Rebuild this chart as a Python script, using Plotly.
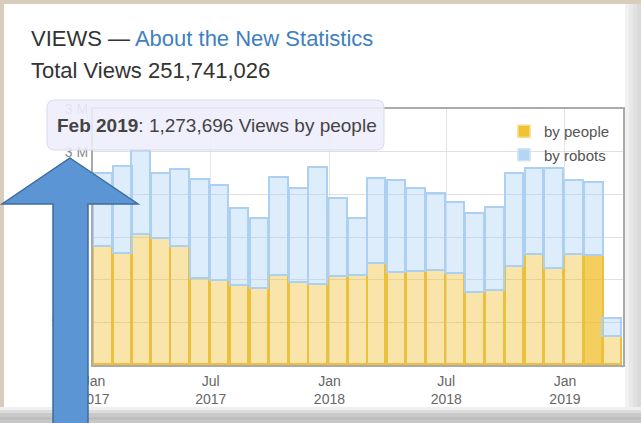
import plotly.graph_objects as go

# ---------------- data ----------------
months = ["2017-01-01", "2017-02-01", "2017-03-01", "2017-04-01", "2017-05-01", "2017-06-01",
          "2017-07-01", "2017-08-01", "2017-09-01", "2017-10-01", "2017-11-01", "2017-12-01",
          "2018-01-01", "2018-02-01", "2018-03-01", "2018-04-01", "2018-05-01", "2018-06-01",
          "2018-07-01", "2018-08-01", "2018-09-01", "2018-10-01", "2018-11-01", "2018-12-01",
          "2019-01-01", "2019-02-01", "2019-03-01"]

views_people = [1380000, 1306000, 1529000, 1479000, 1385000, 1006000, 982000, 921000, 894000,
                1039000, 961000, 933000, 1032000, 1047000, 1188000, 1082000, 1088000, 1106000,
                1067000, 844000, 862000, 1145000, 1294000, 1126000, 1294000, 1273696, 333000]

views_robots = [855000, 1020000, 980000, 756000, 897000, 1165000, 1116000, 903000, 812000,
                1157000, 1098000, 1381000, 909000, 659000, 997000, 1074000, 976000, 902000,
                835000, 921000, 982000, 1090000, 1000000, 1168000, 862000, 864000, 205000]

x_tick_vals = ["2017-01-01", "2017-07-01", "2018-01-01", "2018-07-01", "2019-01-01"]
x_tick_text = ["Jan<br>2017", "Jul<br>2017", "Jan<br>2018", "Jul<br>2018", "Jan<br>2019"]
y_tick_vals = [0, 500000, 1000000, 1500000, 2000000, 2500000, 3000000]
y_tick_text = ["0", "500 K", "1 M", "2 M", "2 M", "3 M", "3 M"]

hovered_month = "2019-02-01"

header_line1 = "VIEWS — "
header_link = "About the New Statistics"
header_line2 = "Total Views 251,741,026"
tooltip_month = "Feb 2019"
tooltip_value = "1,273,696 Views by people"

# ---------------- layout geometry (pixels) ----------------
W, H = 641, 423
L, R, T, B = 93, 623, 109, 365


def fx(p):
    return (p - L) / (R - L)


def fy(p):
    return (B - p) / (B - T)


FONT = "Liberation Sans, Arial, sans-serif"
DAY_MS = 86400000

people_fill = ["rgba(240,190,40,0.75)" if m == hovered_month else "rgba(240,190,40,0.40)"
               for m in months]

fig = go.Figure()
fig.add_trace(go.Bar(
    x=months, y=views_people, name="by people", showlegend=False,
    offset=0, width=29 * DAY_MS,
    marker=dict(color=people_fill, line=dict(color="#ebc03e", width=1.6)),
))
fig.add_trace(go.Bar(
    x=months, y=views_robots, name="by robots", showlegend=False,
    offset=0, width=29 * DAY_MS,
    marker=dict(color="rgba(160,205,245,0.36)", line=dict(color="#acd0f2", width=1.6)),
))
# legend entries
fig.add_trace(go.Bar(x=[None], y=[None], name="by people", legendgroup="p",
                     marker=dict(color="#f1c232", line=dict(color="#f6dc8a", width=1.5))))
fig.add_trace(go.Bar(x=[None], y=[None], name="by robots", legendgroup="r",
                     marker=dict(color="#b4d6f5", line=dict(color="#d2e3f3", width=1.5))))

shapes = []
# white panel and its shadows
shapes.append(dict(type="rect", xref="paper", yref="paper", layer="below",
                   x0=fx(4), x1=fx(626), y0=fy(4), y1=fy(408),
                   fillcolor="white", line=dict(width=0)))
for xa, xb, c in [(625, 629, "#f1f1f1"), (629, 633, "#e8e8e8"), (633, 637, "#e1e1e1"), (637, 642, "#dadada")]:
    shapes.append(dict(type="rect", xref="paper", yref="paper", layer="below",
                       x0=fx(xa), x1=fx(xb), y0=fy(4), y1=fy(424),
                       fillcolor=c, line=dict(width=0)))
for ya, yb, c in [(407, 410, "#f0f0f0"), (410, 413, "#dddddd"), (413, 417, "#c9c9c9"),
                  (417, 420, "#bebebe"), (420, 424, "#c8c8c8")]:
    shapes.append(dict(type="rect", xref="paper", yref="paper", layer="below",
                       x0=fx(0), x1=fx(642), y0=fy(ya), y1=fy(yb),
                       fillcolor=c, line=dict(width=0)))

# tooltip rounded box
tx0, tx1, ty0, ty1, r = 47, 384, 100, 150, 8
tip_path = (f"M {fx(tx0 + r)},{fy(ty0)} L {fx(tx1 - r)},{fy(ty0)} "
            f"Q {fx(tx1)},{fy(ty0)} {fx(tx1)},{fy(ty0 + r)} L {fx(tx1)},{fy(ty1 - r)} "
            f"Q {fx(tx1)},{fy(ty1)} {fx(tx1 - r)},{fy(ty1)} L {fx(tx0 + r)},{fy(ty1)} "
            f"Q {fx(tx0)},{fy(ty1)} {fx(tx0)},{fy(ty1 - r)} L {fx(tx0)},{fy(ty0 + r)} "
            f"Q {fx(tx0)},{fy(ty0)} {fx(tx0 + r)},{fy(ty0)} Z")
shapes.append(dict(type="path", xref="paper", yref="paper", layer="above", path=tip_path,
                   fillcolor="rgba(238,238,252,0.88)", line=dict(color="#d9d9ef", width=1)))

# blue arrow overlay
arrow_path = (f"M {fx(70)},{fy(158)} L {fx(138)},{fy(204)} L {fx(88)},{fy(204)} "
              f"L {fx(88)},{fy(440)} L {fx(53)},{fy(440)} L {fx(53)},{fy(204)} "
              f"L {fx(2)},{fy(204)} Z")
shapes.append(dict(type="path", xref="paper", yref="paper", layer="above", path=arrow_path,
                   fillcolor="#5b95d3", line=dict(color="#3f6c9c", width=1.5)))

annotations = [
    dict(xref="paper", yref="paper", x=fx(29), y=fy(38), xanchor="left", yanchor="middle",
         showarrow=False, font=dict(family=FONT, size=22, color="#333333"),
         text=f"{header_line1}<span style='color:#3f7fc0'>{header_link}</span>"),
    dict(xref="paper", yref="paper", x=fx(29), y=fy(70), xanchor="left", yanchor="middle",
         showarrow=False, font=dict(family=FONT, size=22, color="#333333"),
         text=header_line2),
    dict(xref="paper", yref="paper", x=fx(55), y=fy(125), xanchor="left", yanchor="middle",
         showarrow=False, font=dict(family=FONT, size=19, color="#444444"),
         text=f"<b>{tooltip_month}</b>: {tooltip_value}"),
]

fig.update_layout(
    width=W, height=H,
    margin=dict(l=L, r=W - R, t=T, b=H - B, pad=0),
    paper_bgcolor="#d8cdbc", plot_bgcolor="white",
    barmode="stack", bargap=0,
    font=dict(family=FONT, color="#666666"),
    shapes=shapes, annotations=annotations,
    legend=dict(x=fx(504), y=fy(115), xanchor="left", yanchor="top",
                bgcolor="rgba(0,0,0,0)", font=dict(family=FONT, size=15, color="#555555"),
                tracegroupgap=1, traceorder="grouped"),
    xaxis=dict(type="date", range=["2016-12-30T12:00", "2019-04-01"],
               tickvals=x_tick_vals, ticktext=x_tick_text,
               tickfont=dict(size=14, color="#666666"), ticklabelstandoff=2,
               showgrid=True, gridcolor="#e4e4e4", gridwidth=1,
               showline=True, linecolor="#aaaaaa", linewidth=2, mirror=True,
               ticks="", zeroline=False, fixedrange=True),
    yaxis=dict(range=[0, 3000000], tickvals=y_tick_vals, ticktext=y_tick_text,
               tickfont=dict(size=14, color="#888888"), ticklabelstandoff=0,
               showgrid=True, gridcolor="#e0e0e0", gridwidth=1,
               showline=True, linecolor="#aaaaaa", linewidth=2, mirror=True,
               ticks="", zeroline=False, fixedrange=True),
    showlegend=True,
)

fig.write_html("out.html", config=dict(displayModeBar=False),
               post_script="document.body.style.margin='0';document.body.style.overflow='hidden';")
